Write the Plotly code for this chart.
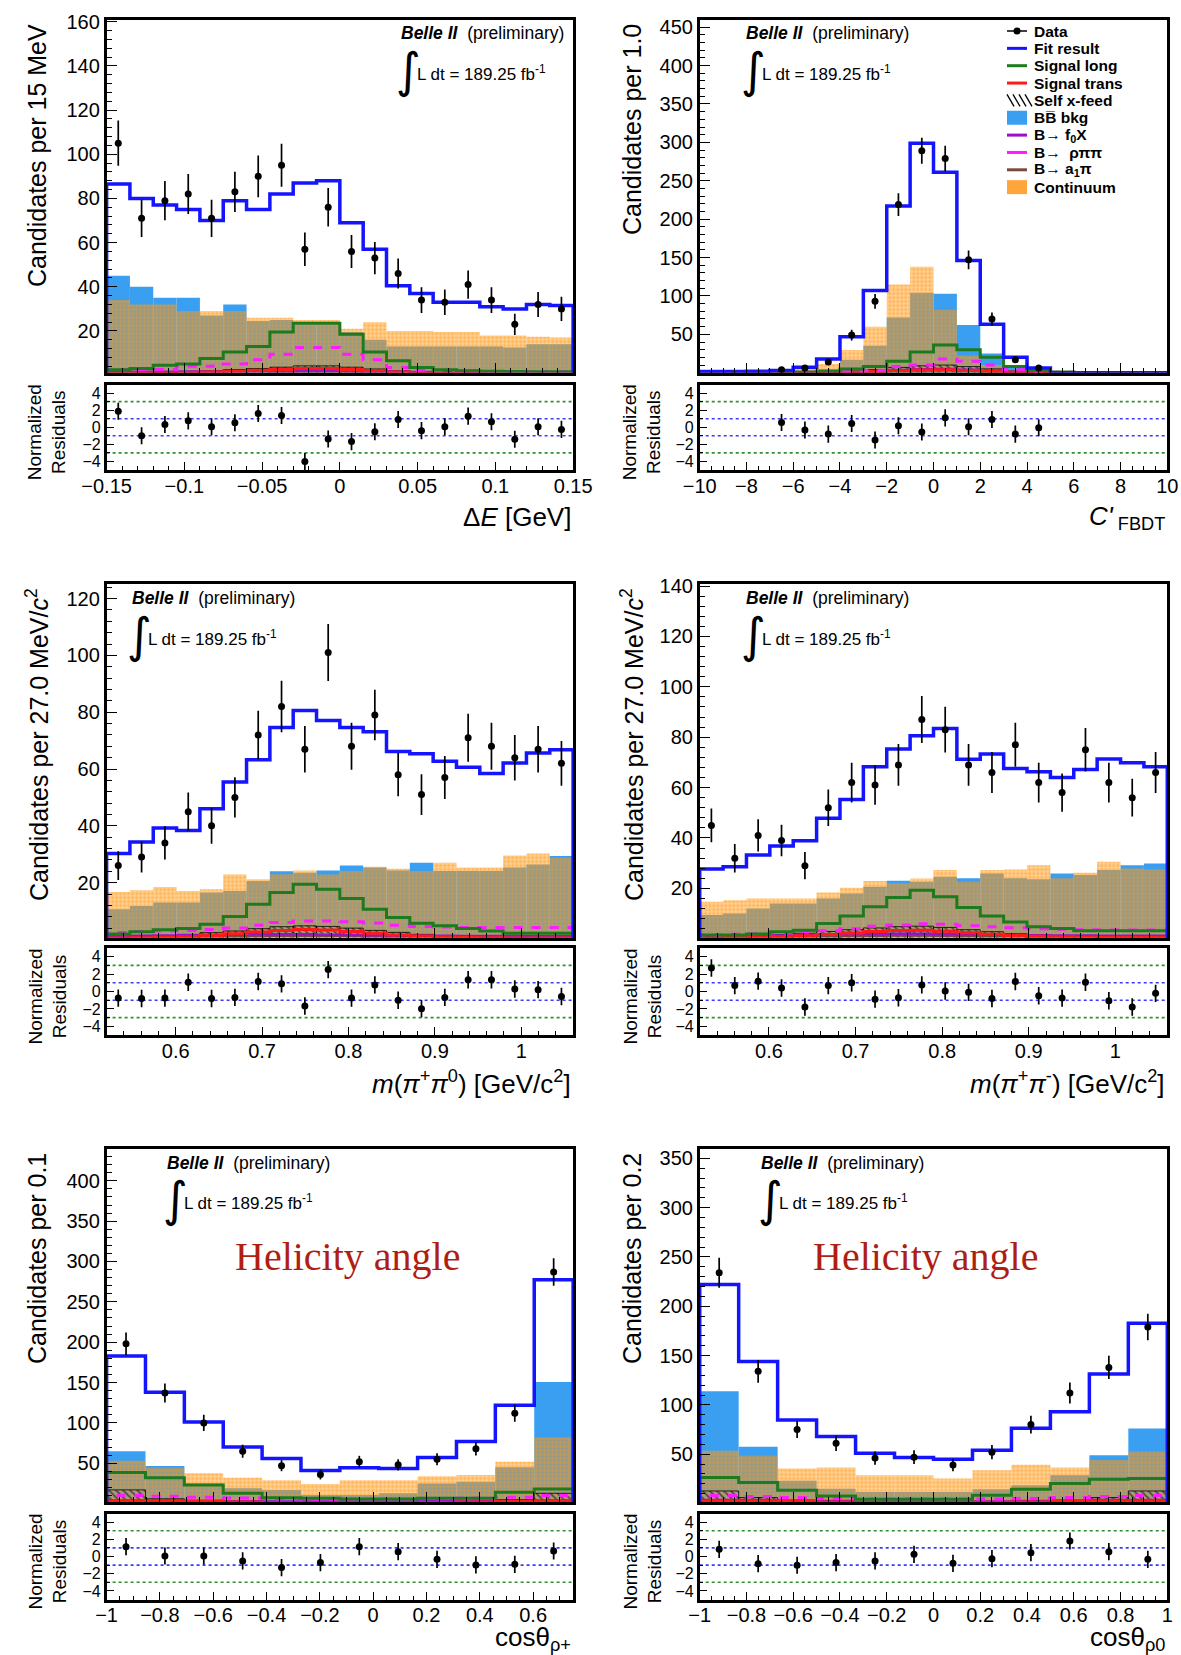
import math
import numpy as np
import plotly.graph_objects as go

W, H = 1181, 1655
FONT = "Liberation Sans, Arial, Helvetica, sans-serif"

# ---------------- Delta E ----------------
DE_DATA = [105, 71, 79, 82, 71, 83, 90, 95, 57, 76, 56, 53, 46, 34, 33, 41, 34, 23, 32, 30]
DE_FIT = [86.5, 80, 77, 75, 70, 79, 75, 82, 87, 88, 69, 57, 40.5, 37, 33, 33, 31, 30, 32, 31.5]
DE_BB = [45, 40, 35, 35, 27, 32, 24.5, 25, 23, 23, 19.5, 16, 13, 13, 13, 13, 13, 12.5, 14, 14]
DE_CONT = [34, 32, 32, 29, 29, 29, 26, 26, 25, 25, 21, 24, 20, 20, 19.5, 19.5, 18, 18, 17.4, 17]
DE_SIGL = [2.5, 3, 4.5, 5, 7.5, 10.5, 13, 19.5, 23.5, 23.5, 18.5, 10.5, 6.5, 3.5, 2.5, 2, 1.8, 1.6, 1.5, 1.5]
DE_SIGT = [0.8, 0.9, 1.0, 1.2, 1.4, 1.8, 2.2, 2.6, 3.0, 3.0, 2.6, 2.0, 1.4, 1.0, 0.8, 0.7, 0.6, 0.5, 0.5, 0.5]
DE_XFEED = [1.0, 1.0, 1.2, 1.5, 2.0, 2.5, 3.0, 3.6, 4.2, 4.2, 3.6, 2.8, 2.0, 1.4, 1.0, 0.9, 0.8, 0.7, 0.7, 0.7]
DE_F0X = [1.5, 1.5, 1.5, 1.6, 1.6, 1.7, 1.8, 1.8, 1.9, 1.9, 1.8, 1.7, 1.5, 1.4, 1.3, 1.2, 1.2, 1.1, 1.1, 1.0]
DE_RHOPIPI = [2.4, 2.4, 2.6, 4, 4, 5, 7, 9.5, 12.5, 12.5, 9.5, 7, 3.5, 2.2, 2, 1.8, 1.6, 1.5, 1.5, 1.5]
DE_A1PI = [0.6, 0.6, 0.6, 0.7, 0.7, 0.8, 0.9, 1.0, 1.1, 1.1, 1.0, 0.9, 0.8, 0.7, 0.6, 0.6, 0.5, 0.5, 0.5, 0.5]
DE_RESID = [1.87, -1.0, 0.33, 0.75, 0.06, 0.52, 1.6, 1.37, -4.0, -1.37, -1.68, -0.52, 0.9, -0.4, 0.06, 1.3, 0.64, -1.4, 0.06, -0.25]

# ---------------- C'_FBDT ----------------
CF_DATA = [None, None, None, 4, 6, 14, 49, 93, 219, 289, 279, 147, 70, 17, 6, None, None, None, None, None]
CF_FIT = [1.5, 1.5, 2, 3, 7, 18, 47, 107, 217, 299, 261, 146, 63, 20, 6, 0, 0, 0, 0, 0]
CF_BB = [0, 0, 0, 0.5, 2, 5, 17, 35, 72, 104, 103, 62, 25, 6, 1, 0, 0, 0, 0, 0]
CF_CONT = [0, 0, 0.5, 1.5, 7, 11.5, 29.5, 60, 115, 138, 82, 22, 10, 2, 0.5, 0, 0, 0, 0, 0]
CF_SIGL = [0, 0, 0, 0.3, 0.8, 2, 5, 8, 15, 27, 36, 30, 20, 8, 3, 1, 0.3, 0, 0, 0]
CF_SIGT = [0, 0, 0, 0, 0.2, 0.4, 0.8, 1.5, 2.5, 3.5, 4.0, 3.0, 2.0, 1.0, 0.4, 0.1, 0, 0, 0, 0]
CF_XFEED = [0, 0, 0, 0, 0.3, 0.8, 2.0, 4.0, 7.0, 9.0, 10.0, 8.0, 5.0, 2.0, 0.5, 0.1, 0, 0, 0, 0]
CF_F0X = [0, 0, 0, 0.1, 0.3, 0.6, 1.2, 2.0, 3.5, 4.5, 5.0, 4.0, 2.5, 1.0, 0.3, 0.1, 0, 0, 0, 0]
CF_RHOPIPI = [0, 0, 0, 0.2, 0.5, 1, 2, 3, 8, 10, 18, 15, 10, 4, 1.5, 0.5, 0, 0, 0, 0]
CF_A1PI = [0, 0, 0, 0.1, 0.2, 0.4, 0.8, 1.5, 2.5, 3.0, 3.0, 2.5, 1.5, 0.6, 0.2, 0, 0, 0, 0, 0]
CF_RESID = [None, None, None, 0.56, -0.33, -0.8, 0.44, -1.49, 0.17, -0.56, 1.1, 0.06, 0.9, -0.8, -0.06, None, None, None, None, None]

# ---------------- m(pi+ pi0) ----------------
MA_DATA = [26, 29, 34, 45, 40, 50, 72, 82, 67, 101, 68, 79, 58, 51, 57, 71, 68, 64, 67, 62]
MA_FIT = [30.3, 34.3, 39.2, 38.4, 46, 55.4, 63.3, 74.6, 80.6, 77.1, 74.6, 73.1, 66.2, 65.4, 62.7, 60.6, 58.4, 62.1, 65.6, 66.8]
MA_BB = [10.6, 11.8, 13, 13, 16.5, 17.1, 20.6, 24, 23.5, 24.3, 26, 25.3, 24.3, 27, 24.1, 24.1, 24.1, 25.3, 26.4, 29.4]
MA_CONT = [16.7, 17.3, 18.5, 17.1, 17.7, 22.9, 21.2, 23, 24.3, 22.9, 24.1, 25.6, 24.9, 24.1, 27, 25.3, 25.3, 29.6, 30.3, 28.8]
MA_SIGL = [1.9, 2.7, 3.4, 3.9, 5.4, 8.1, 12.4, 16.5, 19.4, 17.7, 14.4, 10.6, 7.7, 5.7, 4.8, 3.9, 3.0, 2.2, 2.2, 2.2]
MA_SIGT = [0.5, 0.6, 0.8, 1.0, 1.4, 2.0, 2.6, 3.2, 3.5, 3.3, 2.8, 2.2, 1.6, 1.2, 0.9, 0.7, 0.6, 0.5, 0.5, 0.5]
MA_XFEED = [0.8, 1.0, 1.3, 1.8, 2.4, 3.0, 3.8, 4.5, 4.8, 4.6, 4.0, 3.2, 2.5, 1.8, 1.3, 1.0, 0.8, 0.7, 0.6, 0.6]
MA_F0X = [1.2, 1.3, 1.4, 1.5, 1.6, 1.7, 1.8, 1.8, 1.8, 1.7, 1.6, 1.5, 1.4, 1.3, 1.3, 1.2, 1.2, 1.2, 1.1, 1.1]
MA_RHOPIPI = [2.5, 2.8, 3, 3.2, 3.5, 4, 5, 6, 6.5, 6.5, 6.2, 5.8, 5, 4.6, 4.4, 4.2, 4.2, 4.2, 4.2, 4.2]
MA_A1PI = [0.5, 0.6, 0.7, 0.8, 0.9, 1.0, 1.1, 1.2, 1.2, 1.2, 1.1, 1.0, 0.9, 0.8, 0.7, 0.7, 0.6, 0.6, 0.6, 0.6]
MA_RESID = [-0.76, -0.8, -0.76, 1.07, -0.8, -0.68, 1.15, 0.88, -1.66, 2.52, -0.76, 0.76, -1.0, -1.97, -0.68, 1.35, 1.35, 0.29, 0.21, -0.57]

# ---------------- m(pi+ pi-) ----------------
MB_DATA = [45, 32, 41, 39, 29, 52, 62, 61, 69, 87, 83, 69, 66, 77, 62, 58, 75, 62, 56, 66]
MB_FIT = [27.7, 28.6, 33.2, 36.8, 38.9, 47.8, 55.3, 68.3, 75.3, 80.6, 83.5, 71.2, 73.3, 67.6, 66.3, 64, 67.2, 71.3, 69.9, 68.3]
MB_BB = [9.4, 10, 12, 14, 14, 16, 18, 20.6, 23, 22.6, 24.6, 24, 25.9, 24, 23.6, 25.9, 25.3, 27.3, 29.2, 29.9]
MB_CONT = [14.7, 15.3, 16, 16, 16, 18.4, 20.2, 22.9, 22, 23.9, 27.3, 22.6, 27.3, 27.5, 29.2, 24, 26.2, 30.6, 27.9, 27.5]
MB_SIGL = [1.5, 1.5, 1.9, 2.8, 3.4, 6.1, 9, 12.7, 16.4, 19.3, 16.7, 12.4, 9, 6.7, 4.8, 4.1, 3.2, 3.2, 3.2, 3.2]
MB_SIGT = [0.4, 0.5, 0.7, 0.9, 1.2, 1.7, 2.3, 2.9, 3.3, 3.4, 3.0, 2.4, 1.8, 1.3, 1.0, 0.8, 0.6, 0.5, 0.5, 0.5]
MB_XFEED = [0.7, 0.9, 1.2, 1.6, 2.2, 2.9, 3.6, 4.3, 4.8, 5.0, 4.5, 3.6, 2.8, 2.0, 1.5, 1.1, 0.9, 0.8, 0.7, 0.7]
MB_F0X = [1.0, 1.1, 1.2, 1.3, 1.5, 1.6, 1.8, 2.0, 2.0, 2.0, 1.9, 1.7, 1.6, 1.5, 1.4, 1.3, 1.3, 1.2, 1.2, 1.2]
MB_RHOPIPI = [1.5, 1.8, 2, 2.3, 2.7, 3.2, 4, 5, 5.5, 6, 5.8, 5.2, 4.8, 4.4, 4, 3.8, 3.6, 3.5, 3.5, 3.5]
MB_A1PI = [0.5, 0.5, 0.6, 0.7, 0.8, 0.9, 1.0, 1.1, 1.2, 1.2, 1.1, 1.0, 0.9, 0.8, 0.7, 0.7, 0.6, 0.6, 0.6, 0.6]
MB_RESID = [2.7, 0.68, 1.19, 0.41, -1.78, 0.68, 1.0, -0.88, -0.72, 0.76, 0.06, -0.1, -0.8, 1.15, -0.49, -0.76, 1.07, -1.07, -1.78, -0.21]

# ---------------- cos(theta) rho+ ----------------
HA_DATA = [198, 137, 100, 65, 47, 36, 52, 48, 55, 68, 112, 287]
HA_FIT = [183, 138, 101, 70, 56, 41, 44.5, 43.6, 57, 77, 122, 277.5]
HA_BB = [65, 46.5, 25, 19, 17, 10.7, 10.7, 12.8, 25, 27, 45, 150.7]
HA_CONT = [53, 44.5, 37.5, 32, 29, 24.3, 29, 29, 34, 35.4, 52, 82]
HA_SIGL = [38.7, 32, 23, 12.8, 7.4, 6.6, 5.8, 5.8, 6.6, 6.6, 14, 18]
HA_SIGT = [3.0, 3.0, 2.5, 2.0, 1.5, 1.2, 1.2, 1.2, 1.5, 2.0, 2.5, 3.0]
HA_XFEED = [17, 6, 3, 2, 1.5, 1.2, 1.2, 1.2, 1.5, 2, 5, 12.8]
HA_F0X = [4.0, 4.0, 3.5, 3.0, 2.5, 2.5, 2.5, 2.5, 3.0, 3.0, 3.5, 4.0]
HA_RHOPIPI = [10, 9, 8, 7, 6, 5.5, 5.5, 5.5, 6, 6.5, 8, 10]
HA_A1PI = [3.0, 2.5, 2.0, 1.5, 1.0, 1.0, 1.0, 1.0, 1.5, 2.0, 2.5, 3.0]
HA_RESID = [1.14, 0.06, 0.06, -0.52, -1.29, -0.71, 1.14, 0.56, -0.33, -0.98, -0.91, 0.64]

# ---------------- cos(theta) rho0 ----------------
HB_DATA = [234, 134, 75, 61, 46, 47, 39, 52, 80, 112, 138, 179]
HB_FIT = [222, 144, 84.6, 68, 51, 46.6, 44.9, 54.1, 76.4, 93, 131.4, 182.9]
HB_BB = [113.7, 57.5, 23, 15, 11.7, 11.7, 11.7, 14.4, 18.5, 28.6, 49, 76]
HB_CONT = [53.4, 48.3, 35.4, 36.4, 28.6, 28.6, 25.3, 33.7, 39.2, 36.4, 44.2, 52.7]
HB_SIGL = [26.3, 21.2, 13.4, 7.6, 4.2, 4.2, 4.2, 8.3, 14.4, 20.2, 24.6, 25.3]
HB_SIGT = [2.5, 2.5, 2.0, 1.5, 1.2, 1.0, 1.0, 1.2, 1.5, 2.0, 2.5, 2.5]
HB_XFEED = [12.7, 6, 3, 2, 1.5, 1.2, 1.2, 1.5, 2, 3, 6, 12.7]
HB_F0X = [3.5, 3.5, 3.0, 2.5, 2.0, 2.0, 2.0, 2.0, 2.5, 3.0, 3.5, 3.5]
HB_RHOPIPI = [8, 7, 6, 5, 4.5, 4.5, 4.5, 4.5, 5, 6, 7, 8]
HB_A1PI = [2.5, 2.2, 1.8, 1.4, 1.0, 1.0, 1.0, 1.0, 1.4, 1.8, 2.2, 2.5]
HB_RESID = [0.83, -0.83, -1.02, -0.71, -0.52, 0.25, -0.79, -0.25, 0.44, 1.8, 0.56, -0.33]

LEGEND_LABELS = ["Data", "Fit result", "Signal long", "Signal trans", "Self x-feed",
                 "BB\u0305 bkg", "B\u2192 f<sub>0</sub>X", "B\u2192  \u03c1\u03c0\u03c0",
                 "B\u2192 a<sub>1</sub>\u03c0", "Continuum"]

C_FIT = "#1414ff"
C_SIGL = "#1d7a1d"
C_SIGT = "#ff1a1a"
C_F0X = "#9a12c8"
C_RHO = "#ff1aff"
C_A1 = "#7b4a3e"
C_BB = "#3a9ff0"
C_CONT = "#ff9612"
C_CONT_BG = "rgba(255,150,18,0.45)"

PANELS = [
    dict(col=0, row=0, xr=(-0.15, 0.15), nb=20, yr=(1.2, 161), ydt=20, ymin=4, xdt=0.05, xmin=0.01,
         data=DE_DATA, fit=DE_FIT, bb=DE_BB, cont=DE_CONT, sigl=DE_SIGL, sigt=DE_SIGT, xfeed=DE_XFEED,
         f0x=DE_F0X, rho=DE_RHOPIPI, a1=DE_A1PI, resid=DE_RESID,
         ytitle="Candidates per 15 MeV", xtitle="\u0394<i>E</i> [GeV]"),
    dict(col=1, row=0, xr=(-10, 10), nb=20, yr=(0.3, 460), ydt=50, ymin=10, xdt=2, xmin=0.5,
         data=CF_DATA, fit=CF_FIT, bb=CF_BB, cont=CF_CONT, sigl=CF_SIGL, sigt=CF_SIGT, xfeed=CF_XFEED,
         f0x=CF_F0X, rho=CF_RHOPIPI, a1=CF_A1PI, resid=CF_RESID,
         ytitle="Candidates per 1.0", xtitle="<i>C'</i><sub> FBDT</sub>"),
    dict(col=0, row=1, xr=(0.52, 1.06), nb=20, yr=(0.7, 125.3), ydt=20, ymin=4, xdt=0.1, xmin=0.02,
         data=MA_DATA, fit=MA_FIT, bb=MA_BB, cont=MA_CONT, sigl=MA_SIGL, sigt=MA_SIGT, xfeed=MA_XFEED,
         f0x=MA_F0X, rho=MA_RHOPIPI, a1=MA_A1PI, resid=MA_RESID,
         ytitle="Candidates per 27.0 MeV/<i>c</i><sup>2</sup>",
         xtitle="<i>m</i>(<i>\u03c0</i><sup>+</sup><i>\u03c0</i><sup>0</sup>) [GeV/c<sup>2</sup>]"),
    dict(col=1, row=1, xr=(0.52, 1.06), nb=20, yr=(0.5, 141), ydt=20, ymin=4, xdt=0.1, xmin=0.02,
         data=MB_DATA, fit=MB_FIT, bb=MB_BB, cont=MB_CONT, sigl=MB_SIGL, sigt=MB_SIGT, xfeed=MB_XFEED,
         f0x=MB_F0X, rho=MB_RHOPIPI, a1=MB_A1PI, resid=MB_RESID,
         ytitle="Candidates per 27.0 MeV/<i>c</i><sup>2</sup>",
         xtitle="<i>m</i>(<i>\u03c0</i><sup>+</sup><i>\u03c0</i><sup>-</sup>) [GeV/c<sup>2</sup>]"),
    dict(col=0, row=2, xr=(-1.0, 0.75), nb=12, yr=(2, 440), ydt=50, ymin=10, xdt=0.2, xmin=0.05,
         data=HA_DATA, fit=HA_FIT, bb=HA_BB, cont=HA_CONT, sigl=HA_SIGL, sigt=HA_SIGT, xfeed=HA_XFEED,
         f0x=HA_F0X, rho=HA_RHOPIPI, a1=HA_A1PI, resid=HA_RESID,
         ytitle="Candidates per 0.1", xtitle="cos\u03b8<sub>\u03c1+</sub>"),
    dict(col=1, row=2, xr=(-1.0, 1.0), nb=12, yr=(1.5, 360), ydt=50, ymin=10, xdt=0.2, xmin=0.05,
         data=HB_DATA, fit=HB_FIT, bb=HB_BB, cont=HB_CONT, sigl=HB_SIGL, sigt=HB_SIGT, xfeed=HB_XFEED,
         f0x=HB_F0X, rho=HB_RHOPIPI, a1=HB_A1PI, resid=HB_RESID,
         ytitle="Candidates per 0.2", xtitle="cos\u03b8<sub>\u03c10</sub>"),
]

# pixel geometry of the frames
COL_X = [(106.6, 573.1), (699.7, 1167.3)]
ROW_MAIN = [(19.5, 372.5), (583.5, 937.5), (1148.5, 1502.0)]
ROW_RES = [(384.5, 470.0), (948.0, 1035.0), (1513.5, 1599.5)]
XTITLE_Y = [517, 1082, 1638]


def px(x):
    return x / W


def py(y):
    return 1 - y / H


def ax(n):
    return "" if n == 1 else str(n)


def step_xy(edges, vals):
    xs = [edges[0]] + list(edges[:-1]) + [edges[-1], edges[-1]]
    ys = [0] + list(vals) + [vals[-1], 0]
    return xs, ys


fig = go.Figure()
layout = {}
shapes = []
annots = []

for i, p in enumerate(PANELS):
    m, r = 2 * i + 1, 2 * i + 2
    xm, ym, xr_, yr_ = "x" + ax(m), "y" + ax(m), "x" + ax(r), "y" + ax(r)
    edges = np.linspace(p["xr"][0], p["xr"][1], p["nb"] + 1)
    centers = 0.5 * (edges[:-1] + edges[1:])
    bw = edges[1] - edges[0]

    # filled backgrounds
    fig.add_trace(go.Bar(x=centers, y=p["bb"], width=[bw] * p["nb"], xaxis=xm, yaxis=ym,
                         marker=dict(color=C_BB, line=dict(width=0)), showlegend=False))
    fig.add_trace(go.Bar(x=centers, y=p["cont"], width=[bw] * p["nb"], xaxis=xm, yaxis=ym,
                         marker=dict(color=C_CONT, line=dict(width=0),
                                     pattern=dict(shape=".", fgcolor=C_CONT, bgcolor=C_CONT_BG,
                                                  size=4, solidity=0.45)),
                         showlegend=False))
    fig.add_trace(go.Bar(x=centers, y=p["xfeed"], width=[bw] * p["nb"], xaxis=xm, yaxis=ym,
                         marker=dict(color="black", line=dict(width=0.8, color="black"),
                                     pattern=dict(shape="\\", fgcolor="black", bgcolor="rgba(0,0,0,0)",
                                                  size=5, solidity=0.35)),
                         showlegend=False))

    # component outlines
    for key, col, wdt, dash in [("a1", C_A1, 2, "solid"), ("f0x", C_F0X, 2.5, "solid"),
                                ("sigt", C_SIGT, 3, "solid"), ("rho", C_RHO, 3, "dash"),
                                ("sigl", C_SIGL, 3, "solid"), ("fit", C_FIT, 3.5, "solid")]:
        sx, sy = step_xy(edges, p[key])
        fig.add_trace(go.Scatter(x=sx, y=sy, mode="lines", line=dict(color=col, width=wdt, dash=dash,
                                                                       shape="hv"),
                                 xaxis=xm, yaxis=ym, showlegend=False, hoverinfo="skip"))

    # data points
    dx = [c for c, v in zip(centers, p["data"]) if v is not None]
    dy = [v for v in p["data"] if v is not None]
    fig.add_trace(go.Scatter(x=dx, y=dy, mode="markers", xaxis=xm, yaxis=ym, showlegend=False,
                             marker=dict(color="black", size=7),
                             error_y=dict(type="data", array=[math.sqrt(v) for v in dy],
                                          color="black", thickness=1.7, width=0)))

    # residuals
    rx = [c for c, v in zip(centers, p["resid"]) if v is not None]
    ry = [v for v in p["resid"] if v is not None]
    fig.add_trace(go.Scatter(x=rx, y=ry, mode="markers", xaxis=xr_, yaxis=yr_, showlegend=False,
                             marker=dict(color="black", size=7),
                             error_y=dict(type="constant", value=1, color="black", thickness=1.7, width=0)))
    for lev, col in [(3, "#2f8f2f"), (1, "#3a3aff"), (-1, "#3a3aff"), (-3, "#2f8f2f")]:
        shapes.append(dict(type="line", xref=xr_ + " domain", yref=yr_, x0=0, x1=1, y0=lev, y1=lev,
                           line=dict(color=col, width=1.6, dash="dot"), layer="below"))

    x0, x1 = COL_X[p["col"]]
    m0, m1 = ROW_MAIN[p["row"]]
    r0, r1 = ROW_RES[p["row"]]
    common = dict(showline=True, linecolor="black", linewidth=2.5, mirror=True, showgrid=False,
                  zeroline=False, ticks="inside", tickcolor="black", tickwidth=1.2, automargin=False,
                  tickfont=dict(family=FONT, size=20, color="black"))
    layout["xaxis" + ax(m)] = dict(common, domain=[px(x0), px(x1)], range=list(p["xr"]), anchor=ym,
                                   showticklabels=False, dtick=p["xdt"], tick0=0, ticklen=10,
                                   minor=dict(ticks="inside", dtick=p["xmin"], ticklen=5, tickcolor="black"))
    layout["yaxis" + ax(m)] = dict(common, domain=[py(m1), py(m0)], range=list(p["yr"]), anchor=xm,
                                   dtick=p["ydt"], tick0=0, ticklen=11,
                                   minor=dict(ticks="inside", dtick=p["ymin"], ticklen=6, tickcolor="black"))
    layout["xaxis" + ax(r)] = dict(common, domain=[px(x0), px(x1)], range=list(p["xr"]), anchor=yr_,
                                   dtick=p["xdt"], tick0=0, ticklen=8, ticklabelstandoff=-4,
                                   minor=dict(ticks="inside", dtick=p["xmin"], ticklen=4, tickcolor="black"))
    layout["yaxis" + ax(r)] = dict(common, domain=[py(r1), py(r0)], range=[-5, 5], anchor=xr_,
                                   dtick=2, tick0=0, ticklen=8,
                                   tickfont=dict(family=FONT, size=16, color="black"),
                                   minor=dict(ticks="inside", dtick=1, ticklen=4, tickcolor="black"))

    # axis titles
    tx = 37 if p["col"] == 0 else 632
    annots.append(dict(x=px(tx), y=py(m0 + 3), xref="paper", yref="paper", xanchor="center",
                       yanchor="top", textangle=-90, showarrow=False, text=p["ytitle"],
                       font=dict(family=FONT, size=25, color="black")))
    rtx = 47 if p["col"] == 0 else 642
    annots.append(dict(x=px(rtx), y=py((r0 + r1) / 2 + 5), xref="paper", yref="paper",
                       xanchor="center", yanchor="middle", textangle=-90, showarrow=False,
                       text="Normalized<br>Residuals", font=dict(family=FONT, size=19, color="black")))
    annots.append(dict(x=px(x1), y=py(XTITLE_Y[p["row"]]), xref="paper", yref="paper",
                       xanchor="right", yanchor="middle", showarrow=False, text=p["xtitle"],
                       font=dict(family=FONT, size=26, color="black")))

    # experiment labels
    bx = {0: 399, 1: 744, 2: 130, 3: 744, 4: 165, 5: 759}[i]
    by = {0: 0, 1: 0, 2: 1, 3: 1, 4: 2, 5: 2}[i]
    belle_y = [33, 598, 1163][by]
    annots.append(dict(x=px(bx), y=py(belle_y), xref="paper", yref="paper", xanchor="left",
                       yanchor="middle", showarrow=False,
                       text="<b><i>Belle II</i></b>  (preliminary)",
                       font=dict(family=FONT, size=17.5, color="black")))
    ix = {0: 397, 1: 742, 2: 128, 3: 742, 4: 164, 5: 759}[i]
    iy = [70, 635, 1199][by]
    annots.append(dict(x=px(ix - 3), y=py(iy), xref="paper", yref="paper", xanchor="left",
                       yanchor="middle", showarrow=False, text="\u222b",
                       font=dict(family="DejaVu Sans", size=48, color="black")))
    annots.append(dict(x=px(ix + 18), y=py(iy + 3), xref="paper", yref="paper", xanchor="left",
                       yanchor="middle", showarrow=False, text="L dt = 189.25 fb<sup>-1</sup>",
                       font=dict(family=FONT, size=17, color="black")))

# Helicity angle captions
for cx in (347, 925):
    annots.append(dict(x=px(cx), y=py(1256), xref="paper", yref="paper", xanchor="center",
                       yanchor="middle", showarrow=False, text="Helicity angle",
                       font=dict(family="Liberation Serif, Times New Roman, serif", size=40,
                                 color="#b01e12")))

# legend drawn in the C'_FBDT panel
LX0, LX1, LTX = 1007, 1027, 1032
for k, lab in enumerate(LEGEND_LABELS):
    yc = 31 + 17.35 * k
    annots.append(dict(x=px(LTX), y=py(yc), xref="paper", yref="paper", xanchor="left",
                       yanchor="middle", showarrow=False, text="<b>" + lab + "</b>",
                       font=dict(family=FONT, size=15.5, color="black")))
    line_cols = {1: C_FIT, 2: C_SIGL, 3: C_SIGT, 6: C_F0X, 7: C_RHO, 8: C_A1}
    if k == 0:
        shapes.append(dict(type="line", xref="paper", yref="paper", x0=px(LX0), x1=px(LX1),
                           y0=py(yc), y1=py(yc), line=dict(color="black", width=1.5)))
        shapes.append(dict(type="circle", xref="paper", yref="paper", x0=px(1013.5), x1=px(1020.5),
                           y0=py(yc + 3.5), y1=py(yc - 3.5), fillcolor="black", line=dict(width=0)))
    elif k in line_cols:
        shapes.append(dict(type="line", xref="paper", yref="paper", x0=px(LX0), x1=px(LX1),
                           y0=py(yc), y1=py(yc), line=dict(color=line_cols[k], width=3)))
    elif k == 4:
        for j in range(4):
            xa = LX0 + j * 6
            shapes.append(dict(type="line", xref="paper", yref="paper", x0=px(xa), x1=px(xa + 7),
                               y0=py(yc - 6), y1=py(yc + 6), line=dict(color="black", width=1.3)))
    elif k == 5:
        shapes.append(dict(type="rect", xref="paper", yref="paper", x0=px(LX0), x1=px(LX1),
                           y0=py(yc + 7), y1=py(yc - 7), fillcolor=C_BB, line=dict(width=0)))
    elif k == 9:
        shapes.append(dict(type="rect", xref="paper", yref="paper", x0=px(LX0), x1=px(LX1),
                           y0=py(yc + 7), y1=py(yc - 7), fillcolor="#ffa63a", line=dict(width=0)))

fig.update_layout(**layout)
fig.update_layout(width=W, height=H, margin=dict(l=0, r=0, t=0, b=0, pad=0, autoexpand=False),
                  barmode="overlay", paper_bgcolor="white", plot_bgcolor="white", showlegend=False,
                  shapes=shapes, annotations=annots, font=dict(family=FONT, color="black"))

fig.write_html("out.html")
